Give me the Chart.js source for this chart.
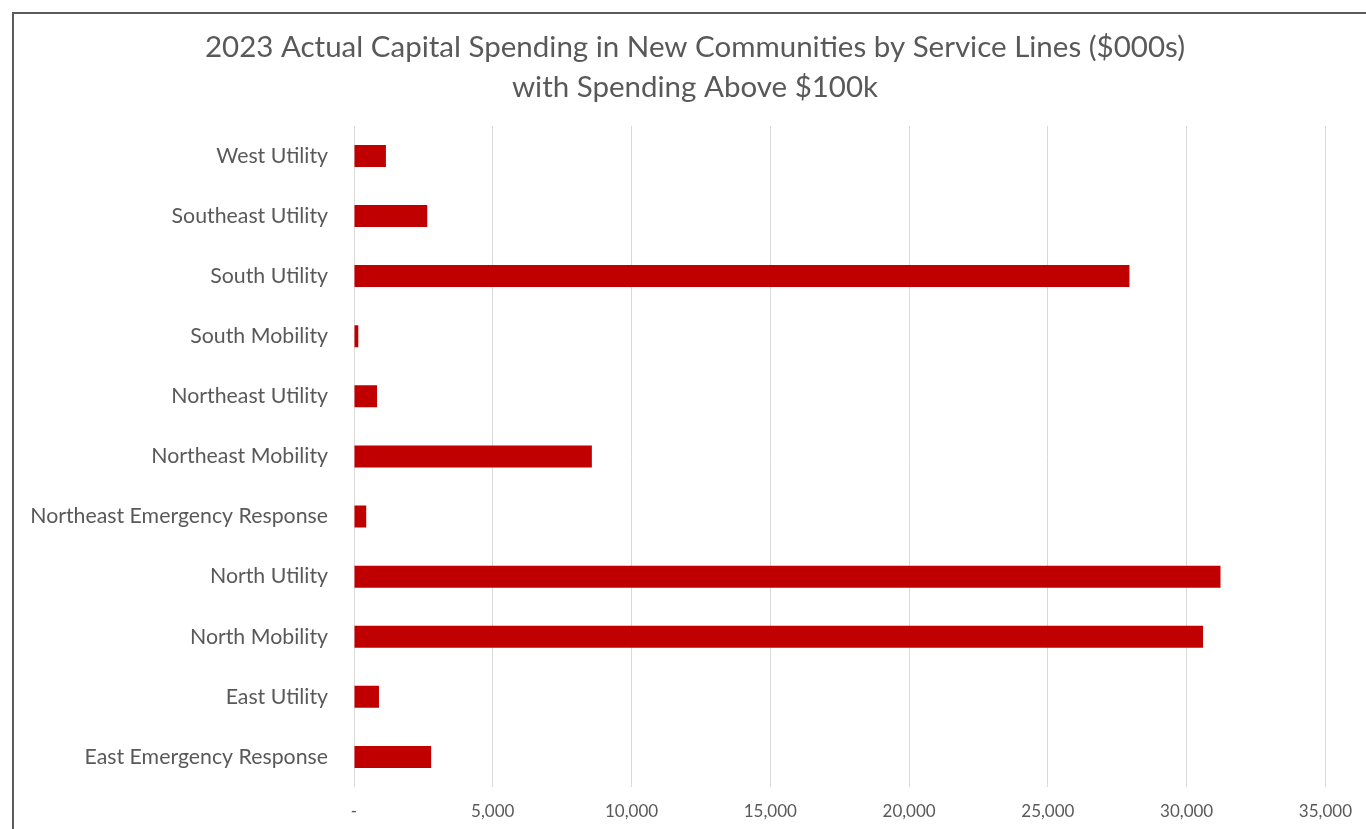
<!DOCTYPE html>
<html>
<head>
<meta charset="utf-8">
<title>2023 Actual Capital Spending in New Communities by Service Lines</title>
<script src="https://cdn.jsdelivr.net/npm/chart.js@4.4.0/dist/chart.umd.min.js"></script>
<style>
  html, body { margin: 0; padding: 0; background: #ffffff; overflow: hidden; }
  #wrap { position: relative; width: 1366px; height: 829px; }
  #wrap canvas { position: absolute; left: 0; top: 0; }
  #frame {
    position: absolute; left: 12px; top: 12px; right: -10px; bottom: -10px;
    border-left: 2px solid #5b5b5b; border-top: 2px solid #5b5b5b;
    pointer-events: none;
  }
</style>
</head>
<body>
<div id="wrap">
  <canvas id="chart" width="1366" height="829"></canvas>
  <div id="frame"></div>
</div>
<script>
// Service lines, listed top to bottom
const serviceLines = [
  'West Utility',
  'Southeast Utility',
  'South Utility',
  'South Mobility',
  'Northeast Utility',
  'Northeast Mobility',
  'Northeast Emergency Response',
  'North Utility',
  'North Mobility',
  'East Utility',
  'East Emergency Response'
];

// Actual 2023 capital spending ($000s)
const spending = [1150, 2640, 27940, 155, 830, 8570, 440, 31220, 30590, 900, 2780];

const titleLines = [
  '2023 Actual Capital Spending in New Communities by Service Lines ($000s)',
  'with Spending Above $100k'
];

// Value axis range and tick step ($000s)
const axisMin = 0;
const axisMax = 35000;
const axisStep = 5000;

const textColor = '#595959';
const barColor = '#C00000';

// Plot spans x = 354 .. 1327; the title is centred on the whole framed chart
const padRight = 39;
const plotLeft = 354;
const xAxisHeight = 42;
const titleCenterX = 695;

// Re-centre the title block horizontally once the layout is known
const titleCentering = {
  id: 'titleCentering',
  afterLayout(chart) {
    const t = chart.titleBlock;
    if (!t) return;
    const dx = titleCenterX - (t.left + t.right) / 2;
    t.left += dx;
    t.right += dx;
  }
};

new Chart(document.getElementById('chart'), {
  type: 'bar',
  data: {
    labels: serviceLines,
    datasets: [{
      data: spending,
      backgroundColor: barColor,
      borderWidth: 0,
      barPercentage: 0.366,
      categoryPercentage: 1
    }]
  },
  options: {
    indexAxis: 'y',
    responsive: false,
    animation: false,
    devicePixelRatio: 1,
    layout: { padding: { left: 0, right: padRight, top: 0, bottom: 0 } },
    plugins: {
      legend: { display: false },
      tooltip: { enabled: false },
      title: {
        display: true,
        text: titleLines,
        color: textColor,
        font: { family: 'Lato', size: 29.5, weight: 'normal', lineHeight: 1.37 },
        padding: { top: 27, bottom: 18 }
      }
    },
    scales: {
      x: {
        min: axisMin,
        max: axisMax,
        border: { display: false },
        grid: { color: '#d9d9d9', lineWidth: 1, drawTicks: false, tickLength: 0 },
        ticks: {
          stepSize: axisStep,
          padding: 14,
          color: textColor,
          font: { family: 'Lato', size: 17 },
          callback: v => v === 0 ? '-' : Number(v).toLocaleString('en-US')
        },
        afterFit: s => { s.height = xAxisHeight; }
      },
      y: {
        border: { display: false },
        grid: { display: false, drawTicks: false, tickLength: 0 },
        ticks: {
          padding: 26,
          color: textColor,
          font: { family: 'Lato', size: 21.3 }
        },
        afterFit: s => { s.width = plotLeft; }
      }
    }
  },
  plugins: [titleCentering]
});
</script>
</body>
</html>
